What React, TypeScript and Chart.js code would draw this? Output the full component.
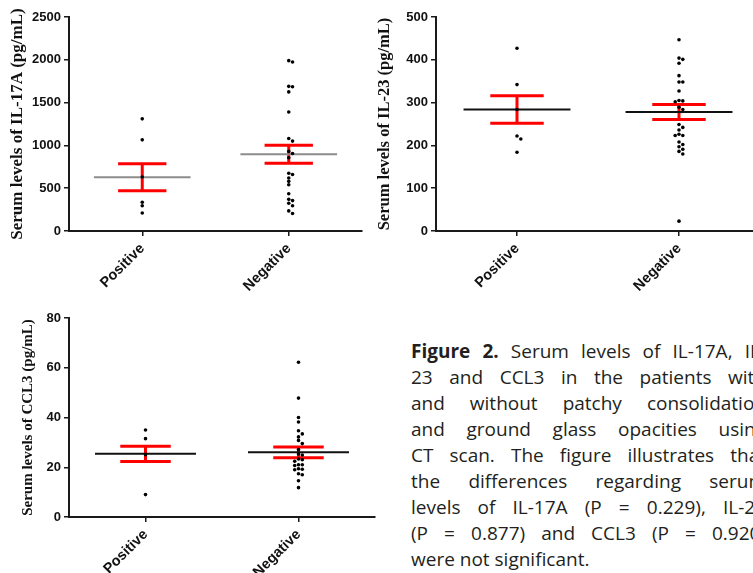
import React, { useEffect, useRef } from "react";
import { Chart, registerables } from "chart.js";

Chart.register(...registerables);

// ---------------- data ----------------
const groups = ["Positive", "Negative"];

const il17aPositive = [1310, 1065, 630, 335, 295, 210];
const il17aNegative = [1990, 1975, 1690, 1685, 1625, 1390, 1080, 1050, 930, 905, 855, 675, 660, 620, 580, 540, 435, 370, 355, 325, 295, 235, 205];
const il17aMean = [627, 896];
const il17aSem = [158, 105];
const il17aTicks = [0, 500, 1000, 1500, 2000, 2500];

const il23Positive = [427, 342, 284, 222, 215, 184];
const il23Negative = [447, 404, 401, 392, 363, 348, 348, 327, 304, 305, 302, 289, 284, 249, 242, 236, 226, 223, 223, 208, 202, 197, 191, 186, 180, 23];
const il23Mean = [284, 278];
const il23Sem = [32, 17.5];
const il23Ticks = [0, 100, 200, 300, 400, 500];

const ccl3Positive = [35, 31.5, 25, 9];
const ccl3Negative = [62.2, 47.8, 40, 38.2, 34.7, 33.4, 32.2, 30.8, 29.5, 27.1, 25.3, 24.9, 23.3, 23.0, 22.4, 21.0, 20.7, 21.0, 19.4, 19.0, 19.2, 17.4, 17.0, 14.6, 11.8];
const ccl3Mean = [25.4, 26.0];
const ccl3Sem = [3.05, 2.15];
const ccl3Ticks = [0, 20, 40, 60, 80];

const captionLines = [
  "Serum levels of IL-17A, IL-",
  "23 and CCL3 in the patients with",
  "and without patchy consolidation",
  "and ground glass opacities using",
  "CT scan. The figure illustrates that",
  "the differences regarding serum",
  "levels of IL-17A (P = 0.229), IL-23",
  "(P = 0.877) and CCL3 (P = 0.920)",
  "were not significant.",
];
const captionLabel = "Figure 2.";

// ---------------- layout ----------------
type Panel = {
  title: string;
  positive: number[];
  negative: number[];
  mean: number[];
  sem: number[];
  ticks: number[];
  meanColor: string;
  box: { left: number; top: number; width: number; height: number };
  area: { left: number; top: number; right: number; bottom: number };
  titleX: number;
  titleSize: number;
};

const panels: Panel[] = [
  {
    title: "Serum levels of IL-17A (pg/mL)",
    positive: il17aPositive, negative: il17aNegative, mean: il17aMean, sem: il17aSem, ticks: il17aTicks,
    meanColor: "#8c8c8c",
    box: { left: 0, top: 0, width: 370, height: 300 },
    area: { left: 69, top: 17, right: 362, bottom: 231 },
    titleX: 18, titleSize: 17,
  },
  {
    title: "Serum levels of IL-23 (pg/mL)",
    positive: il23Positive, negative: il23Negative, mean: il23Mean, sem: il23Sem, ticks: il23Ticks,
    meanColor: "#111111",
    box: { left: 370, top: 0, width: 395, height: 300 },
    area: { left: 66, top: 17, right: 390, bottom: 231 },
    titleX: 15, titleSize: 16.5,
  },
  {
    title: "Serum levels of CCL3 (pg/mL)",
    positive: ccl3Positive, negative: ccl3Negative, mean: ccl3Mean, sem: ccl3Sem, ticks: ccl3Ticks,
    meanColor: "#111111",
    box: { left: 0, top: 300, width: 380, height: 273 },
    area: { left: 69, top: 18, right: 375, bottom: 217 },
    titleX: 28, titleSize: 15,
  },
];

const SANS = "Arial, 'Liberation Sans', sans-serif";
const SERIF = "'Times New Roman', 'Liberation Serif', serif";
const AXIS = "#1a1a1a";

function swarmOffsets(values: number[], gap: number): number[] {
  const order = values.map((_, i) => i).sort((a, b) => values[b] - values[a]);
  const placed: { v: number; c: number }[] = [];
  const out = new Array(values.length).fill(0);
  const cands = [0, 1, -1, 2, -2, 3, -3];
  for (const i of order) {
    const v = values[i];
    let col = 0;
    for (const c of cands) {
      if (!placed.some((p) => p.c === c && Math.abs(p.v - v) < gap)) { col = c; break; }
    }
    placed.push({ v, c: col });
    out[i] = col;
  }
  return out;
}

const meanSemPlugin = {
  id: "meanSem",
  beforeDatasetsDraw(chart: any, _args: any, opts: any) {
    const { ctx, scales } = chart;
    const x = scales.x, y = scales.y;
    const mean: number[] = opts.mean, sem: number[] = opts.sem;
    ctx.save();
    ctx.lineCap = "butt";
    mean.forEach((m: number, i: number) => {
      const cx = x.getPixelForValue(i + 1);
      const capL = x.getPixelForValue(i + 1 - 0.165), capR = x.getPixelForValue(i + 1 + 0.165);
      const hi = y.getPixelForValue(m + sem[i]), lo = y.getPixelForValue(m - sem[i]);
      ctx.strokeStyle = "#ff0000";
      ctx.lineWidth = 3;
      ctx.beginPath();
      ctx.moveTo(cx, hi); ctx.lineTo(cx, lo);
      ctx.moveTo(capL, hi); ctx.lineTo(capR, hi);
      ctx.moveTo(capL, lo); ctx.lineTo(capR, lo);
      ctx.stroke();
      const ml = x.getPixelForValue(i + 1 - 0.33), mr = x.getPixelForValue(i + 1 + 0.33);
      const my = y.getPixelForValue(m);
      ctx.strokeStyle = opts.meanColor;
      ctx.lineWidth = 2;
      ctx.beginPath();
      ctx.moveTo(ml, my); ctx.lineTo(mr, my);
      ctx.stroke();
    });
    ctx.restore();
  },
};

function PanelChart({ p }: { p: Panel }) {
  const ref = useRef<HTMLCanvasElement>(null);
  useEffect(() => {
    if (!ref.current) return;
    const yMax = p.ticks[p.ticks.length - 1];
    const plotH = p.area.bottom - p.area.top;
    const plotW = p.area.right - p.area.left;
    const gap = (3.4 * yMax) / plotH;
    const step = 3.8 / (plotW / 2);
    const mk = (vals: number[], g: number) => {
      const offs = swarmOffsets(vals, gap);
      return vals.map((v, i) => ({ x: g + offs[i] * step, y: v }));
    };
    const chart = new Chart(ref.current, {
      type: "scatter",
      data: {
        datasets: [
          { data: mk(p.positive, 1), backgroundColor: "#000", borderColor: "#000", pointRadius: 1.8, pointHoverRadius: 1.8, borderWidth: 0 },
          { data: mk(p.negative, 2), backgroundColor: "#000", borderColor: "#000", pointRadius: 1.8, pointHoverRadius: 1.8, borderWidth: 0 },
        ],
      },
      options: {
        responsive: false,
        animation: false,
        events: [],
        layout: { padding: { top: p.area.top, right: p.box.width - p.area.right, left: 0, bottom: 0 } },
        plugins: {
          legend: { display: false },
          tooltip: { enabled: false },
          meanSem: { mean: p.mean, sem: p.sem, meanColor: p.meanColor },
        } as any,
        scales: {
          x: {
            type: "linear",
            min: 0.5,
            max: 2.5,
            afterBuildTicks: (s: any) => { s.ticks = groups.map((_, i) => ({ value: i + 1 })); },
            afterFit: (s: any) => { s.height = p.box.height - p.area.bottom; },
            ticks: {
              autoSkip: false,
              minRotation: 45,
              maxRotation: 45,
              padding: 4,
              color: "#111",
              font: { family: SANS, size: 14.5, weight: "bold" },
              callback: (v: any) => groups[Math.round(Number(v)) - 1] ?? "",
            },
            grid: { drawOnChartArea: false, drawTicks: true, tickLength: 5, color: AXIS, lineWidth: 1.5 },
            border: { display: true, color: AXIS, width: 2 },
          },
          y: {
            min: 0,
            max: yMax,
            afterBuildTicks: (s: any) => { s.ticks = p.ticks.map((v) => ({ value: v })); },
            afterFit: (s: any) => { s.width = p.area.left; },
            ticks: {
              padding: 3,
              color: "#111",
              font: { family: SANS, size: 13, weight: "bold" },
              callback: (v: any) => String(v),
            },
            grid: { drawOnChartArea: false, drawTicks: true, tickLength: 5, color: AXIS, lineWidth: 1.5 },
            border: { display: true, color: AXIS, width: 2 },
            title: {
              display: true,
              text: p.title,
              color: "#111",
              font: { family: SERIF, size: p.titleSize, weight: "bold" },
              padding: { top: p.titleX - p.titleSize * 0.6, bottom: 0 },
            },
          },
        },
      } as any,
      plugins: [meanSemPlugin],
    });
    return () => chart.destroy();
  }, [p]);
  return (
    <canvas
      ref={ref}
      width={p.box.width}
      height={p.box.height}
      style={{ position: "absolute", left: p.box.left, top: p.box.top, width: p.box.width, height: p.box.height }}
    />
  );
}

const CAP_FONT = "'Open Sans', sans-serif";
const CAP_SIZE = 19;

export default function App() {
  return (
    <div style={{ position: "absolute", left: 0, top: 0, width: 753, height: 573, overflow: "hidden", background: "#fff" }}>
      {panels.map((p, i) => (
        <PanelChart key={i} p={p} />
      ))}
      <div
        style={{
          position: "absolute",
          left: 411,
          top: 338,
          width: 355,
          fontFamily: CAP_FONT,
          fontSize: CAP_SIZE,
          lineHeight: "26px",
          color: "#231f20",
        }}
      >
        {captionLines.map((line, i) => (
          <div
            key={i}
            style={{
              whiteSpace: "nowrap",
              textAlign: i === captionLines.length - 1 ? "left" : "justify",
              textAlignLast: i === captionLines.length - 1 ? "left" : "justify",
            } as any}
          >
            {i === 0 ? (<><b>{captionLabel}</b> {line}</>) : line}
          </div>
        ))}
      </div>
    </div>
  );
}
